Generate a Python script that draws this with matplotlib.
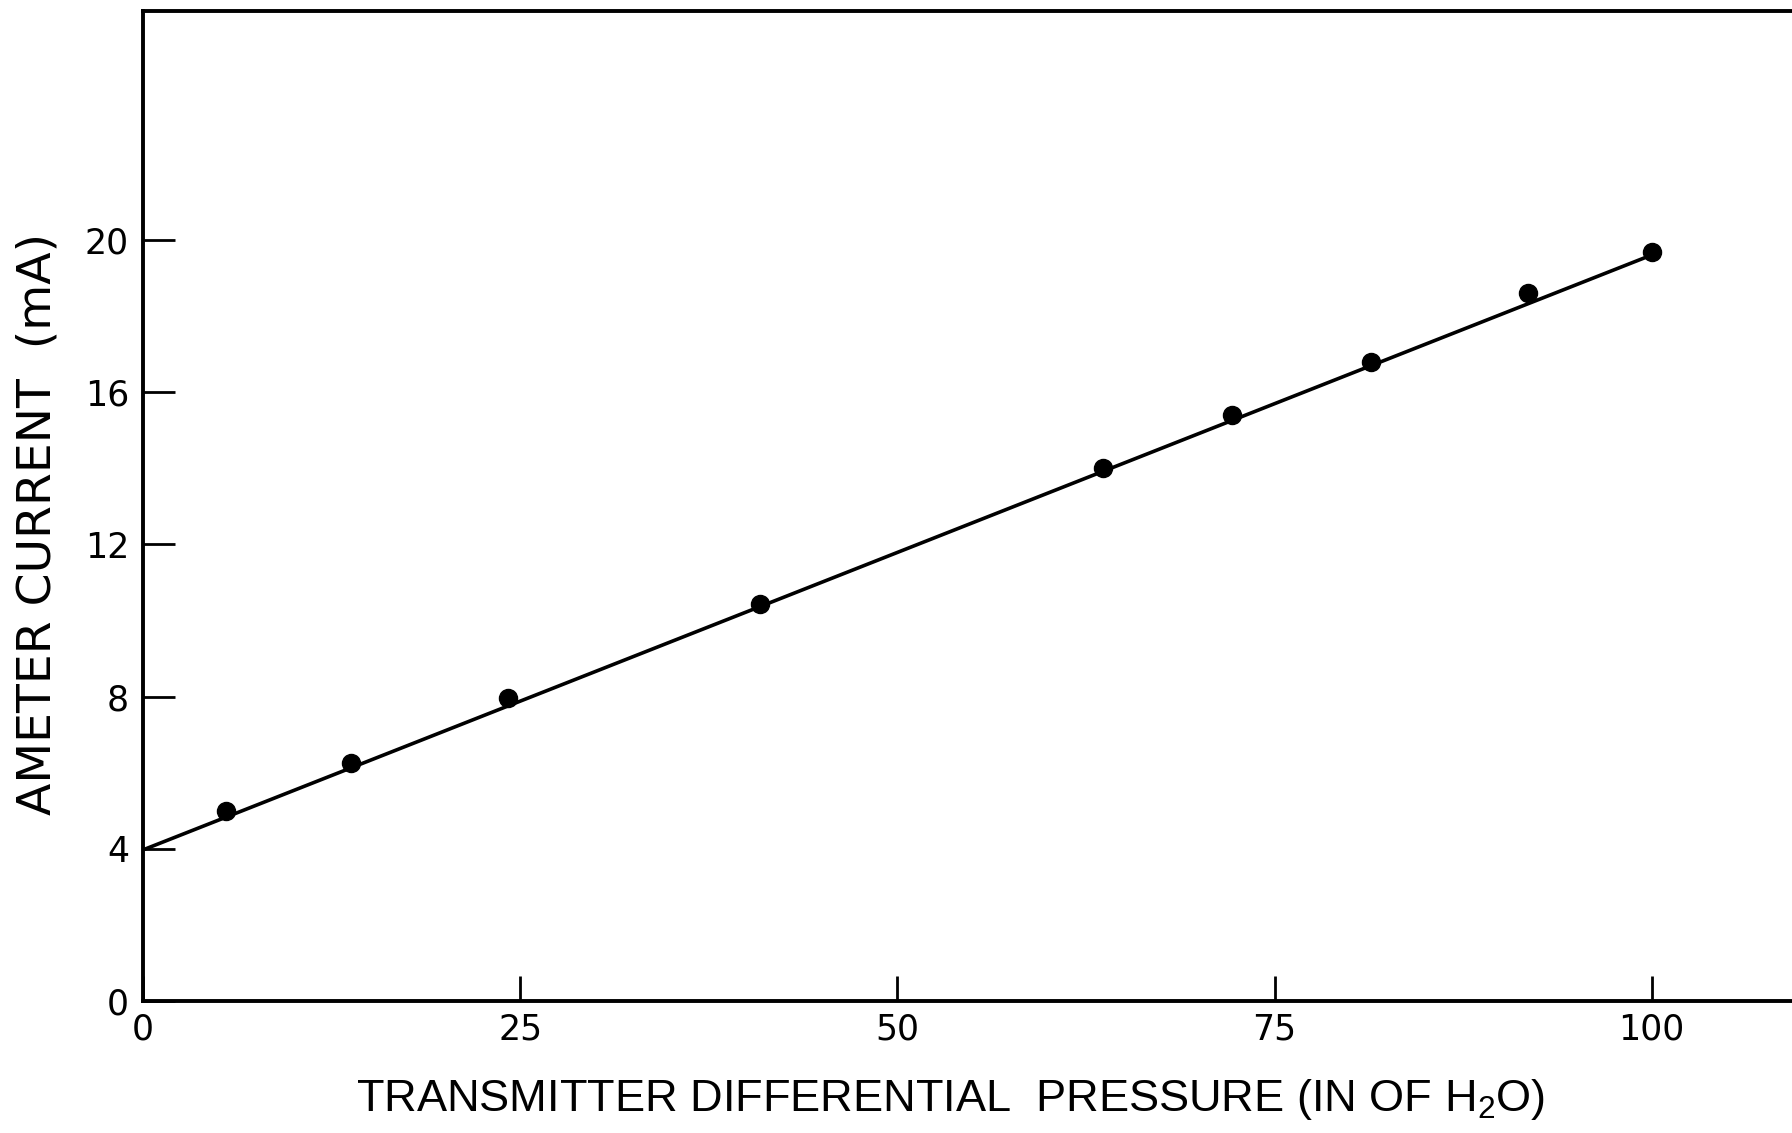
import matplotlib
matplotlib.use("Agg")
import matplotlib.pyplot as plt

# Data
pressure = [5.5, 13.8, 24.2, 40.9, 63.6, 72.2, 81.4, 91.8, 100.0]
current = [4.98, 6.25, 7.96, 10.42, 14.0, 15.4, 16.79, 18.59, 19.67]
fit_x = [0.0, 100.0]
fit_y = [3.97, 19.6]
xticks = [0, 25, 50, 75, 100]
xtick_labels = ["0", "25", "50", "75", "100"]
yticks = [0, 4, 8, 12, 16, 20]
ytick_labels = ["0", "4", "8", "12", "16", "20"]

xfont = "Liberation Sans"
plt.rcParams['mathtext.fontset'] = 'custom'
plt.rcParams['mathtext.rm'] = xfont
plt.rcParams['mathtext.it'] = xfont

fig = plt.figure(figsize=(17.92, 11.33), dpi=100)
ax = fig.add_axes([143/1792, 1 - 1001/1133, 1 - 143/1792, (1001 - 11.4)/1133])
ax.plot(fit_x, fit_y, color='black', lw=2.6, solid_capstyle='butt', zorder=2)
ax.plot(pressure, current, 'o', color='black', ms=13, zorder=3)
ax.set_xlim(0, 109.3)
ax.set_ylim(0, 26.0)
ax.spines['right'].set_visible(False)
for s in ['left', 'bottom', 'top']:
    ax.spines[s].set_linewidth(2.8)
ax.set_xticks(xticks)
ax.set_xticklabels(xtick_labels)
ax.set_yticks(yticks)
ax.set_yticklabels(ytick_labels)
ax.tick_params(axis='x', direction='in', length=18, width=2.0, pad=8, labelsize=25)
ax.tick_params(axis='y', direction='in', length=23, width=2.0, pad=10, labelsize=25)

fig.text(951/1792, 1 - 1100/1133, r"TRANSMITTER DIFFERENTIAL  PRESSURE (IN OF H$_2$O)",
         ha='center', va='center', fontsize=32.5, family=xfont)
fig.text(38/1792, 1 - 524/1133, "AMETER CURRENT  (mA)", rotation=90,
         ha='center', va='center', fontsize=34)

fig.savefig("out.png", dpi=100)
